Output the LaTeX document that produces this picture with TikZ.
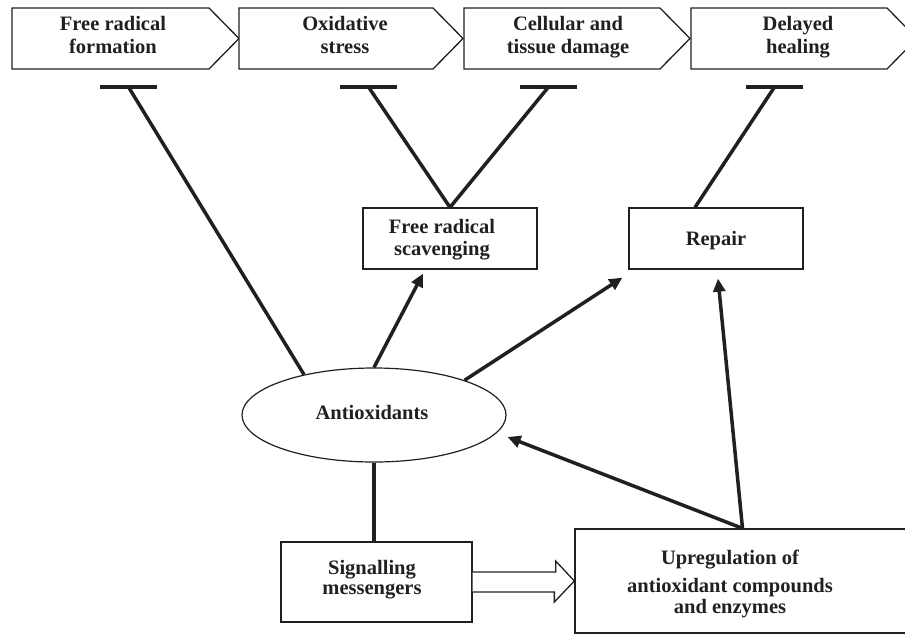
\documentclass[tikz,border=0pt]{standalone}
\usepackage{fontspec}
\setmainfont{Liberation Serif}
\usetikzlibrary{arrows.meta,shapes.geometric}
\definecolor{ink}{HTML}{231F20}
\begin{document}
\begin{tikzpicture}[x=1pt,y=-1pt,
  txt/.style={font=\bfseries\fontsize{20.5}{23}\selectfont, align=center, text=ink, inner sep=0pt},
  box/.style={draw=ink, line width=1.3pt},
  link/.style={line width=3.5pt, draw=ink},
  arr/.style={link, -{Triangle[length=13pt,width=12pt]}},
  tbar/.style={line width=4.5pt, draw=ink},
  chev/.style={draw=ink, line width=1.3pt, fill=white, line join=miter}]
\useasboundingbox (0,0) rectangle (905,635);
% chevrons
\foreach \x/\w in {12/197, 239/194, 464/196, 691/196} {
  \draw[chev] (\x,8) -- ++(\w,0) -- ++(30,30.5) -- ++(-30,30.5) -- ++(-\w,0) -- cycle;
}
\node[txt] (c1) at (113,37.4) {\strut Free radical\\formation\strut};
\node[txt] (c2) at (345,37.4) {\strut Oxidative\\stress\strut};
\node[txt] (c3) at (568,37.4) {\strut Cellular and\\tissue damage\strut};
\node[txt] (c4) at (798,37.4) {\strut Delayed\\healing\strut};
% T-bar positions
\coordinate (t1) at (128.5,87);
\coordinate (t2) at (368.5,87);
\coordinate (t3) at (548.5,87);
\coordinate (t4) at (774.5,87);
\foreach \t in {t1,t2,t3,t4} {
  \draw[tbar] ([xshift=-28.5pt]\t) -- ([xshift=28.5pt]\t);
}
% boxes
\node[box, minimum width=174pt, minimum height=61pt, inner sep=0pt] (scav) at (450,238.5) {};
\node[txt, font=\bfseries\fontsize{20.5}{22}\selectfont] (scavT) at (442,239.6) {\strut Free radical\\scavenging\strut};
\node[box, minimum width=174pt, minimum height=61pt, inner sep=0pt] (repair) at (716,238.5) {};
\node[txt, font=\bfseries\fontsize{20.5}{22}\selectfont] (repairT) at (716,240.6) {\strut Repair};
\node[box, ellipse, line width=1.2pt, minimum width=264pt, minimum height=94pt, inner sep=0pt] (anti) at (374,415) {};
\node[txt, font=\bfseries\fontsize{20.5}{22}\selectfont] (antiT) at (372,414.6) {\strut Antioxidants};
\node[box, minimum width=191pt, minimum height=80pt, inner sep=0pt] (sig) at (376.5,582) {};
\node[txt, font=\bfseries\fontsize{20.5}{20}\selectfont] (sigT) at (372,580.5) {\strut Signalling\\messengers\strut};
\node[box, minimum width=335pt, minimum height=104pt, inner sep=0pt] (upreg) at (742.5,581) {};
\node[txt, font=\bfseries\fontsize{20.5}{21}\selectfont] (upregT) at (730,584.3) {\strut Upregulation of\\[7pt]antioxidant compounds\\and enzymes\strut};
% inhibition lines
\draw[link] (t1) -- (anti.150);
\draw[link] (t2) -- (scav.north);
\draw[link] (t3) -- (scav.north);
\draw[link] (t4) -- ([xshift=-21pt]repair.north);
% arrows
\draw[arr] (anti.north) -- ([xshift=-27pt,yshift=-4pt]scav.south);
\draw[arr] (anti.21) -- ([xshift=-6pt,yshift=-8pt]repair.south west);
\draw[arr] (upreg.north) -- ([xshift=2pt,yshift=-9pt]repair.south);
\draw[arr] (upreg.north) -- ([xshift=1pt,yshift=-22pt]anti.east);
\draw[link] (anti.south) -- (anti.south |- sig.north);
% block arrow
\draw[box, fill=white, line join=miter] ([yshift=10pt]sig.east) -- ++(83,0) -- ++(0,-11) -- (upreg.west) -- ++(-20,21) -- ++(0,-10) -- ([yshift=-10pt]sig.east);
\end{tikzpicture}
\end{document}
